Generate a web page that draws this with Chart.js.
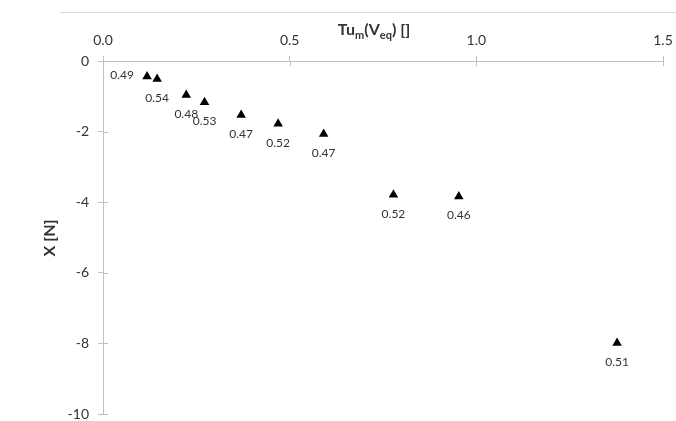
<!DOCTYPE html>
<html>
<head>
<meta charset="utf-8">
<script src="https://cdn.jsdelivr.net/npm/chart.js@4.4.0/dist/chart.umd.min.js"></script>
<style>
  html, body { margin: 0; padding: 0; background: #ffffff; }
  #wrap { width: 676px; height: 421px; }
</style>
</head>
<body>
<div id="wrap"><canvas id="grafico" width="676" height="421"></canvas></div>
<script>
// --- datos ---
const tuValores = [0.118, 0.145, 0.223, 0.272, 0.370, 0.469, 0.591, 0.778, 0.953, 1.377];
const xValores = [-0.44, -0.51, -0.96, -1.17, -1.53, -1.78, -2.07, -3.79, -3.84, -7.99];
const etiquetas = ['0.49', '0.54', '0.48', '0.53', '0.47', '0.52', '0.47', '0.52', '0.46', '0.51'];
const ticksX = [0, 0.5, 1.0, 1.5];
const ticksY = [0, -2, -4, -6, -8, -10];

const puntos = tuValores.map((v, i) => ({ x: v, y: xValores[i] }));

const FUENTE = 'Lato, "Open Sans", sans-serif';
const GRIS_EJE = '#bfbfbf';
const TEXTO = '#333333';

// quitar el relleno automatico que Chart.js deja para la primera/ultima etiqueta
function sinRelleno(scale) {
    scale.paddingTop = 0;
    scale.paddingBottom = 0;
    scale.paddingLeft = 0;
    scale.paddingRight = 0;
}

// etiquetas de cada punto, titulos con subindices, marcas cruzadas y linea superior
const extras = {
    id: 'extras',
    afterDatasetsDraw(chart) {
        const ctx = chart.ctx;
        const meta = chart.getDatasetMeta(0);
        ctx.save();
        ctx.fillStyle = TEXTO;
        ctx.font = '12px ' + FUENTE;
        ctx.textBaseline = 'middle';
        ctx.textAlign = 'center';
        meta.data.forEach((el, i) => {
            if (i === 0) {
                ctx.fillText(etiquetas[i], el.x - 25, el.y - 1);
            } else {
                ctx.fillText(etiquetas[i], el.x, el.y + 19);
            }
        });
        ctx.restore();
    },
    afterDraw(chart) {
        const ctx = chart.ctx;
        const xs = chart.scales.x;
        const ys = chart.scales.y;
        const area = chart.chartArea;
        ctx.save();

        // linea gris superior
        ctx.strokeStyle = '#d9d9d9';
        ctx.lineWidth = 1;
        ctx.beginPath();
        ctx.moveTo(60, 12.5);
        ctx.lineTo(676, 12.5);
        ctx.stroke();

        // parte interior de las marcas
        ctx.strokeStyle = GRIS_EJE;
        ctx.beginPath();
        ticksX.forEach(v => {
            const px = Math.round(xs.getPixelForValue(v)) + 0.5;
            ctx.moveTo(px, area.top);
            ctx.lineTo(px, area.top + 5);
        });
        ticksY.forEach(v => {
            const py = Math.round(ys.getPixelForValue(v)) + 0.5;
            ctx.moveTo(area.left, py);
            ctx.lineTo(area.left + 5, py);
        });
        ctx.stroke();

        // titulo eje x: Tu_m(V_eq) []
        const partes = [
            ['Tu', false], ['m', true], ['(V', false], ['eq', true], [') []', false]
        ];
        const fNormal = 'bold 16px ' + FUENTE;
        const fSub = 'bold 11px ' + FUENTE;
        let ancho = 0;
        partes.forEach(p => {
            ctx.font = p[1] ? fSub : fNormal;
            ancho += ctx.measureText(p[0]).width;
        });
        let x0 = 374 - ancho / 2;
        const base = 35;
        ctx.fillStyle = TEXTO;
        ctx.textAlign = 'left';
        ctx.textBaseline = 'alphabetic';
        partes.forEach(p => {
            ctx.font = p[1] ? fSub : fNormal;
            ctx.fillText(p[0], x0, p[1] ? base + 4 : base);
            x0 += ctx.measureText(p[0]).width;
        });

        // titulo eje y
        ctx.translate(50, 238);
        ctx.rotate(-Math.PI / 2);
        ctx.font = fNormal;
        ctx.textAlign = 'center';
        ctx.textBaseline = 'middle';
        ctx.fillText('X [N]', 0, 0);
        ctx.restore();
    }
};

const ctx = document.getElementById('grafico').getContext('2d');

const grafico = new Chart(ctx, {
    type: 'scatter',
    data: {
        datasets: [{
            data: puntos,
            pointStyle: 'triangle',
            pointRadius: 5.5,
            pointHoverRadius: 5.5,
            backgroundColor: '#000000',
            borderColor: '#000000',
            borderWidth: 0
        }]
    },
    options: {
        responsive: false,
        animation: false,
        layout: {
            padding: { left: 0, top: 0, right: 13, bottom: 7 }
        },
        plugins: {
            legend: { display: false },
            tooltip: { enabled: false }
        },
        scales: {
            x: {
                type: 'linear',
                position: 'top',
                min: 0,
                max: 1.5,
                afterFit: function(scale) { scale.height = 61; sinRelleno(scale); },
                afterBuildTicks: function(scale) {
                    scale.ticks = ticksX.map(v => ({ value: v }));
                },
                ticks: {
                    autoSkip: false,
                    maxRotation: 0,
                    padding: 7,
                    color: TEXTO,
                    font: { family: FUENTE, size: 14 },
                    callback: v => Number(v).toFixed(1)
                },
                grid: {
                    drawOnChartArea: false,
                    tickLength: 5,
                    color: GRIS_EJE
                },
                border: { color: GRIS_EJE }
            },
            y: {
                type: 'linear',
                min: -10,
                max: 0,
                afterFit: function(scale) { scale.width = 103; sinRelleno(scale); },
                afterBuildTicks: function(scale) {
                    scale.ticks = ticksY.map(v => ({ value: v }));
                },
                ticks: {
                    autoSkip: false,
                    padding: 9,
                    color: TEXTO,
                    font: { family: FUENTE, size: 14 },
                    callback: v => String(v)
                },
                grid: {
                    drawOnChartArea: false,
                    tickLength: 5,
                    color: GRIS_EJE
                },
                border: { color: GRIS_EJE }
            }
        }
    },
    plugins: [extras]
});
</script>
</body>
</html>
